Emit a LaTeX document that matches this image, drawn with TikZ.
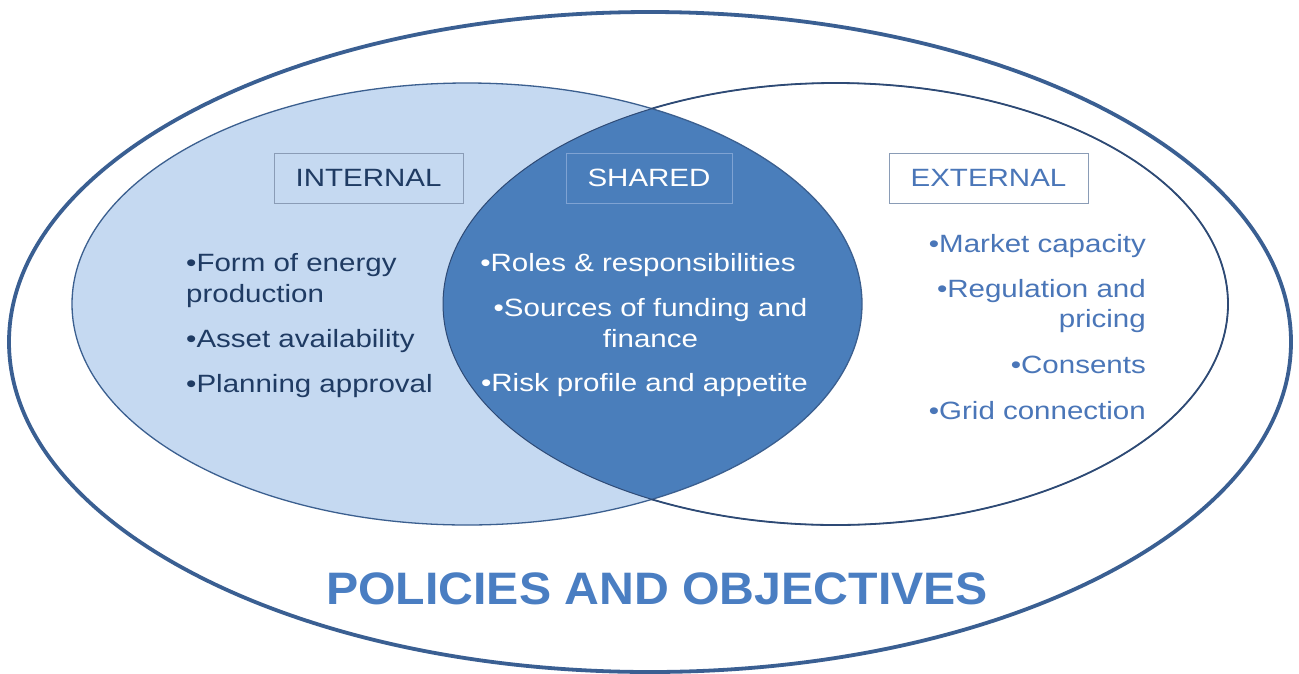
\documentclass[tikz,border=0pt]{standalone}
\usepackage{fontspec}
\setmainfont{Liberation Sans}[FakeStretch=1.18]
\newfontfamily\titlefont{Liberation Sans}[FakeStretch=1.06]
\definecolor{outerline}{HTML}{3A5F92}
\definecolor{lightfill}{HTML}{C5D9F1}
\definecolor{sharedfill}{HTML}{4A7EBB}
\definecolor{leftline}{HTML}{3B5F8F}
\definecolor{rightline}{HTML}{2E4A75}
\definecolor{navytext}{HTML}{1F3B63}
\definecolor{exttext}{HTML}{4A76B8}
\definecolor{titletext}{HTML}{4A7EC2}
\definecolor{boxline}{HTML}{8A9CB6}
\definecolor{sharedbox}{HTML}{7FA3D3}
\begin{document}
\begin{tikzpicture}[x=1pt,y=-1pt,
  body/.style={font=\fontsize{25}{30}\selectfont, inner sep=0pt},
  intxt/.style={body, text=navytext, anchor=base west},
  shtxt/.style={body, text=white, anchor=base},
  extxt/.style={body, text=exttext, anchor=base east},
  labelbox/.style={body, draw=boxline, line width=1pt, minimum height=50pt, inner sep=0pt}
]
\useasboundingbox (0,0) rectangle (1299,673);
\fill[white] (0,0) rectangle (1299,673);
% outer ellipse
\draw[outerline, line width=3.8pt, fill=white] (650,342) ellipse [x radius=641pt, y radius=330pt];
% left ellipse fill
\fill[lightfill] (467,304) ellipse [x radius=395pt, y radius=221pt];
% shared region
\begin{scope}
  \clip (467,304) ellipse [x radius=395pt, y radius=221pt];
  \fill[sharedfill] (835.5,304) ellipse [x radius=392.5pt, y radius=221pt];
\end{scope}
% outlines
\draw[leftline, line width=1.3pt] (467,304) ellipse [x radius=395pt, y radius=221pt];
\draw[rightline, line width=1pt] (835.5,304) ellipse [x radius=392.5pt, y radius=221pt];
\begin{scope}[even odd rule]
  \clip (0,0) rectangle (1299,673) (467,304) ellipse [x radius=395pt, y radius=221pt];
  \draw[rightline, line width=1.8pt] (835.5,304) ellipse [x radius=392.5pt, y radius=221pt];
\end{scope}
% label boxes
\node[labelbox, text=navytext, minimum width=189pt] (internal) at (368.5,178) {INTERNAL};
\node[labelbox, text=white, draw=sharedbox, minimum width=166pt] (shared) at (649,178) {SHARED};
\node[labelbox, text=exttext, minimum width=199pt] (external) at (988.5,178) {EXTERNAL};
% internal items
\node[intxt] (i1) at (186,271) {•Form of energy};
\node[intxt] (i1b) at (186,302) {production};
\node[intxt] (i2) at (186,347) {•Asset availability};
\node[intxt] (i3) at (186,392) {•Planning approval};
% shared items
\node[shtxt] (s1) at (638,271) {•Roles \& responsibilities};
\node[shtxt] (s2) at (650.5,316) {•Sources of funding and};
\node[shtxt] (s2b) at (650.5,347) {finance};
\node[shtxt] (s3) at (644.5,391) {•Risk profile and appetite};
% external items
\node[extxt] (e1) at (1146,252) {•Market capacity};
\node[extxt] (e2) at (1146,297) {•Regulation and};
\node[extxt] (e2b) at (1146,327) {pricing};
\node[extxt] (e3) at (1146,373) {•Consents};
\node[extxt] (e4) at (1146,419) {•Grid connection};
% title
\node[inner sep=0pt, anchor=base, text=titletext, font=\titlefont\bfseries\fontsize{45.5}{50}\selectfont] (title) at (657,604) {POLICIES AND OBJECTIVES};
\end{tikzpicture}
\end{document}
